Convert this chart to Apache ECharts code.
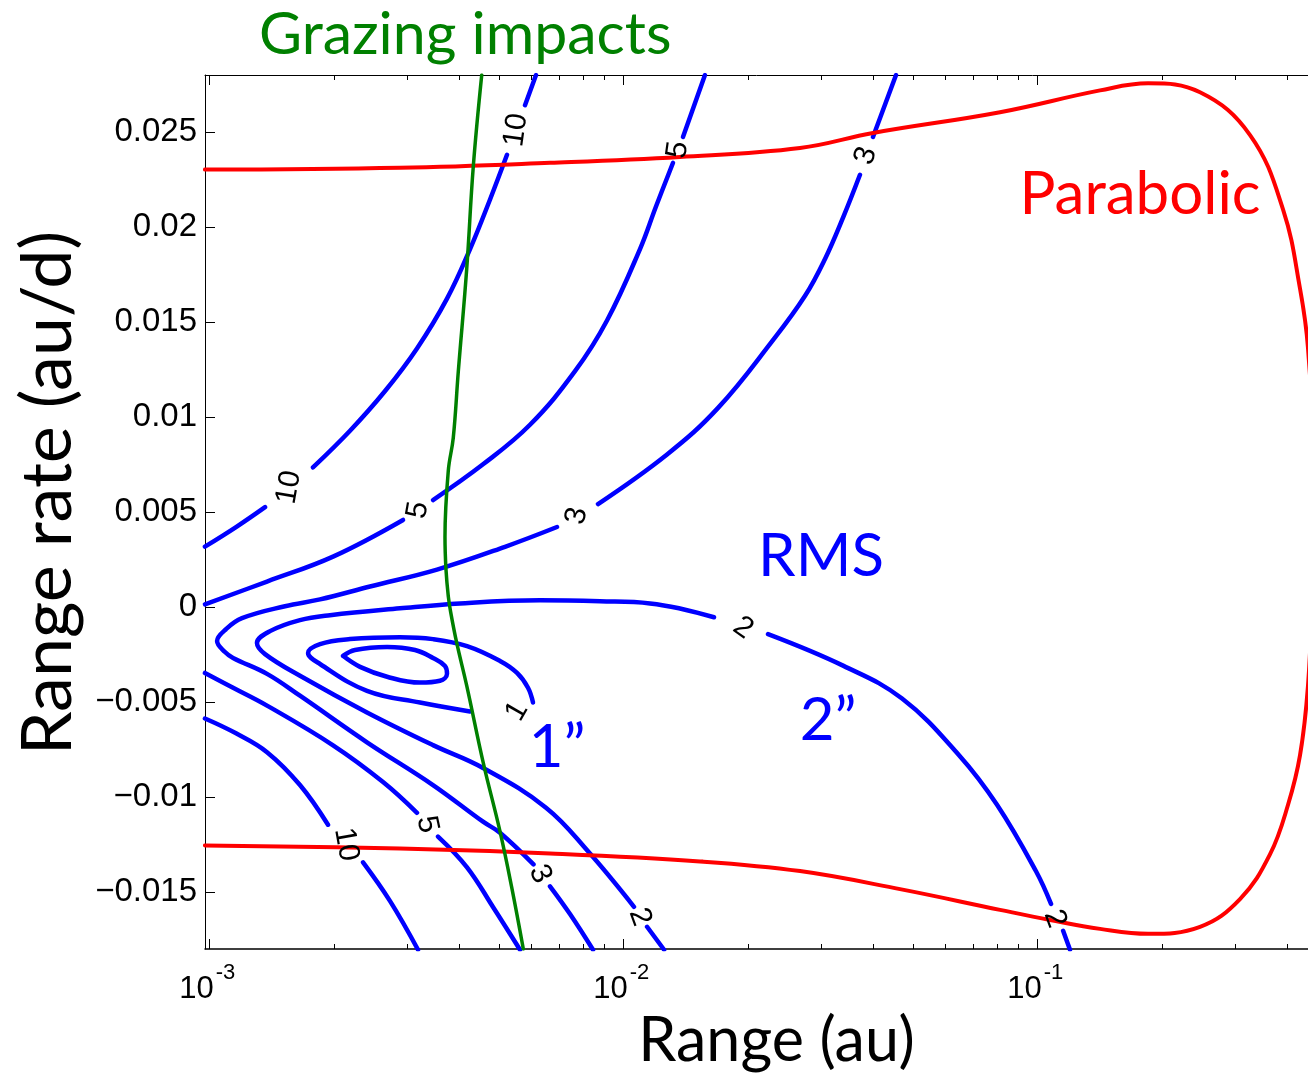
<!DOCTYPE html>
<html><head><meta charset="utf-8">
<script src="https://cdn.jsdelivr.net/npm/echarts@6/dist/echarts.min.js"></script>
<style>html,body{margin:0;padding:0;background:#fff}#c{width:1308px;height:1077px}</style>
</head><body><div id="c"></div>
<script>
// ---------- axis ticks ----------
const xMajorTicks = [0.001, 0.01, 0.1];
const xMinorTicks = [0.002,0.003,0.004,0.005,0.006,0.007,0.008,0.009,
                     0.02,0.03,0.04,0.05,0.06,0.07,0.08,0.09,0.2,0.3,0.4];
const yTickValues = [-0.015,-0.01,-0.005,0,0.005,0.01,0.015,0.02,0.025];
const yTickLabels = ['\u22120.015','\u22120.01','\u22120.005','0','0.005','0.01','0.015','0.02','0.025'];
const yMin = -0.018, yMax = 0.028;

// ---------- curves: [range (au), range rate (au/d)], null = gap for a contour label ----------
const parabolic = [[0.000975,0.02302],[0.002884,0.02312],[0.006645,0.02338],[0.01369,0.02369],[0.02669,0.02416],
  [0.04006,0.02495],[0.08117,0.02604],[0.1416,0.02719],[0.1849,0.02756],[0.2469,0.02709],[0.3261,0.02484],
  [0.3917,0.02093],[0.4306,0.01675],[0.4501,0.01362],[0.4655,0.00683],[0.4603,0.00056],[0.4501,-0.00414],
  [0.4306,-0.0078],[0.4028,-0.01041],[0.3643,-0.01302],[0.3084,-0.01537],[0.2469,-0.01683],[0.1849,-0.0172],
  [0.1416,-0.01694],[0.1072,-0.01647],[0.08117,-0.01594],[0.04655,-0.01485],[0.02669,-0.0139],[0.0153,-0.01339],
  [0.006645,-0.01297],[0.002884,-0.01271],[0.000975,-0.01255]];

const grazing = [[0.004545,0.028],[0.004337,0.02319],[0.004181,0.01779],[0.003990,0.01240],[0.003880,0.00891],
  [0.003774,0.00718],[0.003705,0.00369],[0.003726,0.00197],[0.003774,0.00056],[0.003825,-0.00028],
  [0.003954,-0.00188],[0.004181,-0.00414],[0.004586,-0.00822],[0.005030,-0.0118],[0.005370,-0.01476],[0.005728,-0.018]];

const rms10Upper = [[0.000975,0.00318],[0.001159,0.00421],[0.001362,0.00526],null,[0.001778,0.00735],[0.002185,0.00928],
  [0.002655,0.01137],[0.003171,0.01361],[0.003747,0.01623],[0.004259,0.01884],[0.004760,0.02145],[0.005231,0.0238],
  null,[0.005782,0.02641],[0.006147,0.028]];
const rms10Lower = [[0.000975,-0.00587],[0.001159,-0.00665],[0.001377,-0.00764],[0.001654,-0.00937],[0.001933,-0.01146],
  null,[0.002349,-0.01344],[0.00273,-0.01548],[0.003189,-0.01804]];
const rms5Upper = [[0.000975,0.00014],[0.001377,0.00134],[0.001988,0.00265],[0.002934,0.00458],null,[0.003466,0.00563],
  [0.004578,0.00751],[0.005945,0.00959],[0.007635,0.01241],[0.009123,0.01508],[0.01096,0.01884],[0.01198,0.02108],
  [0.01317,0.02338],null,[0.01392,0.02474],[0.01573,0.028]];
const rms5Lower = [[0.000975,-0.00347],[0.00114,-0.00425],[0.001377,-0.00519],[0.001988,-0.00728],[0.002625,-0.00921],
  [0.003171,-0.01083],null,[0.003564,-0.01208],[0.004188,-0.0137],[0.004839,-0.01579],[0.005623,-0.01804]];
const rms3 = [[0.04552,0.028],[0.04005,0.02474],null,[0.03725,0.02275],[0.034,0.02056],[0.03067,0.01832],
  [0.02745,0.01638],[0.02284,0.01398],[0.01692,0.01048],[0.01274,0.00803],[0.008678,0.00542],null,
  [0.006908,0.00421],[0.005173,0.00317],[0.003544,0.00197],[0.002442,0.00108],[0.001849,0.0004],[0.001522,0.00004],
  [0.001198,-0.00059],[0.001096,-0.00117],[0.001043,-0.00179],[0.00109,-0.00237],[0.00114,-0.00268],
  [0.001377,-0.00352],[0.001654,-0.00467],[0.002401,-0.00712],[0.003466,-0.00937],[0.004578,-0.0113],
  [0.005031,-0.01188],[0.006062,-0.01355],null,[0.006644,-0.0147],[0.007426,-0.01616],[0.00844,-0.01804]];
const rms2 = [[0.1198,-0.01804],[0.1153,-0.01704],null,[0.1078,-0.01563],[0.09917,-0.01391],[0.07983,-0.01041],
  [0.06463,-0.0078],[0.04707,-0.00482],[0.034,-0.0031],[0.02234,-0.00143],null,[0.01654,-0.00054],
  [0.01159,0.00019],[0.008775,0.0003],[0.006285,0.00035],[0.004029,0.00019],[0.002885,-0.00007],
  [0.001955,-0.00043],[0.001654,-0.00069],[0.0014,-0.00127],[0.001302,-0.0019],[0.001362,-0.00248],
  [0.001654,-0.00362],[0.002401,-0.00555],[0.003466,-0.00727],[0.004578,-0.00847],[0.006498,-0.01056],
  [0.008209,-0.01286],[0.0106,-0.01578],null,[0.0114,-0.01683],[0.01253,-0.01804]];
const rms1 = [[0.006045,-0.00503],[0.005879,-0.00425],[0.005531,-0.00347],[0.005031,-0.00284],[0.004188,-0.00206],
  [0.003466,-0.00169],[0.002885,-0.00159],[0.002185,-0.00169],[0.001849,-0.00195],[0.00173,-0.00242],
  [0.001849,-0.003],[0.002401,-0.00441],[0.003224,-0.00503],[0.004259,-0.0055]];
const rmsInner = [[0.002101,-0.00257],[0.002246,-0.00226],[0.002685,-0.0021],[0.003136,-0.00226],[0.003466,-0.00268],
  [0.003705,-0.0031],[0.003747,-0.00351],[0.003604,-0.00388],[0.003224,-0.00398],[0.002685,-0.00367],
  [0.00231,-0.00315],[0.002101,-0.00257]];

// contour level labels
const contourLabelPos = [[0.001556,0.0063],[0.0055,0.0251],[0.003189,0.0051],[0.01354,0.02406],[0.00772,0.00479],
  [0.03852,0.02375],[0.01944,-0.00111],[0.005531,-0.0055],[0.002137,-0.0125],[0.003353,-0.01145],[0.006285,-0.01406],
  [0.01096,-0.01631],[0.1102,-0.01641]];
const contourLabelText = ['10','10','5','5','3','3','2','1','10','5','3','2','2'];
const contourLabelAngle = [80,82,80,82,78,72,-35,60,-80,-78,-65,-70,-70];

// annotations
const noteText = ['Parabolic','RMS','1\u201D','2\u201D'];
const notePos = [[0.1768,0.02171],[0.0300,0.00265],[0.006908,-0.00738],[0.03119,-0.00597]];
const noteColor = ['#ff0000','#0000ff','#0000ff','#0000ff'];

const BLUE = '#0000ff', RED = '#ff0000', GREEN = '#008000';
const CAL = 'Lato, "Open Sans", sans-serif';
const HEL = '"Liberation Sans", Arial, sans-serif';

function prep(arr){ return arr.map(p => p === null ? ['-','-'] : p); }
function line(arr, color, width, z){
  return {type:'line', data: prep(arr), xAxisIndex:0, yAxisIndex:0, symbol:'none', showSymbol:false,
    smooth:0.4, connectNulls:false, clip:true, silent:true, z:z,
    lineStyle:{color:color, width:width, cap:'round', join:'round'}};
}
function expOf(v){ const e = Math.round(Math.log(v)/Math.LN10); return (e<0?'-':'') + Math.abs(e); }
function textLayer(points, texts, style, z){
  return {type:'scatter', xAxisIndex:0, yAxisIndex:0, symbol:'circle', symbolSize:1, silent:true, z:z, clip:false,
    itemStyle:{color:'rgba(0,0,0,0)', opacity:1},
    data: points.map((p,i)=>({value:p, label:Object.assign({formatter:texts[i]}, style(i))})),
    label:{show:true, position:'inside', textBorderWidth:0, opacity:1}};
}

const chart = echarts.init(document.getElementById('c'), null, {renderer:'canvas'});
const xBase = {type:'log', logBase:10, min:0.0009753, max:0.4501, gridIndex:0,
  splitLine:{show:false}, minorTick:{show:false}, minorSplitLine:{show:false}};
const tickStyle = {color:'#000', width:1};
const xTickPts = xMajorTicks.map(v => [v, yMin]);
const option = {
  animation:false,
  backgroundColor:'#ffffff',
  title:{text:'Grazing impacts', left:254, top:0,
    textStyle:{fontFamily:CAL, fontSize:59, fontWeight:'normal', color:GREEN}},
  grid:{left:205, right:0, top:75, bottom:121, containLabel:false},
  xAxis:[
    Object.assign({}, xBase, {position:'bottom',
      axisLine:{show:true, onZero:false, lineStyle:{color:'#000', width:1.5}},
      axisTick:{show:true, inside:true, length:10, customValues:xMajorTicks, lineStyle:tickStyle},
      axisLabel:{show:false},
      name:'Range (au)', nameLocation:'middle', nameGap:62,
      nameTextStyle:{fontFamily:CAL, fontSize:61, color:'#000', verticalAlign:'top', padding:[0,0,0,40]}}),
    Object.assign({}, xBase, {position:'bottom',
      axisLine:{show:false, onZero:false}, axisLabel:{show:false},
      axisTick:{show:true, inside:true, length:5, customValues:xMinorTicks, lineStyle:tickStyle}}),
    Object.assign({}, xBase, {position:'top',
      axisLine:{show:true, onZero:false, lineStyle:{color:'#000', width:1}}, axisLabel:{show:false},
      axisTick:{show:true, inside:true, length:10, customValues:xMajorTicks, lineStyle:tickStyle}}),
    Object.assign({}, xBase, {position:'top',
      axisLine:{show:false, onZero:false}, axisLabel:{show:false},
      axisTick:{show:true, inside:true, length:5, customValues:xMinorTicks, lineStyle:tickStyle}})
  ],
  yAxis:[{type:'value', min:yMin, max:yMax, position:'left',
    splitLine:{show:false},
    axisLine:{show:true, onZero:false, lineStyle:{color:'#000', width:1}},
    axisTick:{show:true, inside:true, length:10, customValues:yTickValues, lineStyle:tickStyle},
    axisLabel:{show:true, customValues:yTickValues, margin:8, fontFamily:HEL, fontSize:33, color:'#000',
      formatter:function(v){ for (let i=0;i<yTickValues.length;i++){ if (Math.abs(yTickValues[i]-v)<1e-9) return yTickLabels[i]; } return ''; }},
    name:'Range rate (au/d)', nameLocation:'middle', nameGap:122, nameRotate:90,
    nameTextStyle:{fontFamily:CAL, fontSize:70, color:'#000', padding:[0,0,0,38]}}],
  series:[
    line(rms10Upper, BLUE, 4.5, 2), line(rms10Lower, BLUE, 4.5, 2),
    line(rms5Upper, BLUE, 4.5, 2), line(rms5Lower, BLUE, 4.5, 2),
    line(rms3, BLUE, 4.5, 2), line(rms2, BLUE, 4.5, 2), line(rms1, BLUE, 4.5, 2), line(rmsInner, BLUE, 4.5, 2),
    line(parabolic, RED, 4, 3),
    line(grazing, GREEN, 3.5, 4),
    textLayer(contourLabelPos, contourLabelText,
      i => ({rotate:contourLabelAngle[i], fontFamily:HEL, fontSize:30, color:'#000'}), 6),
    textLayer(notePos, noteText, i => ({fontFamily:CAL, fontSize:60, color:noteColor[i]}), 6),
    // x tick labels 10^n (base and exponent)
    textLayer(xTickPts, xMajorTicks.map(() => '10'),
      () => ({fontFamily:HEL, fontSize:31, color:'#000', offset:[-13, 40]}), 7),
    textLayer(xTickPts, xMajorTicks.map(expOf),
      () => ({fontFamily:HEL, fontSize:22, color:'#000', offset:[16, 24]}), 7)
  ]
};
chart.setOption(option);
</script></body></html>
